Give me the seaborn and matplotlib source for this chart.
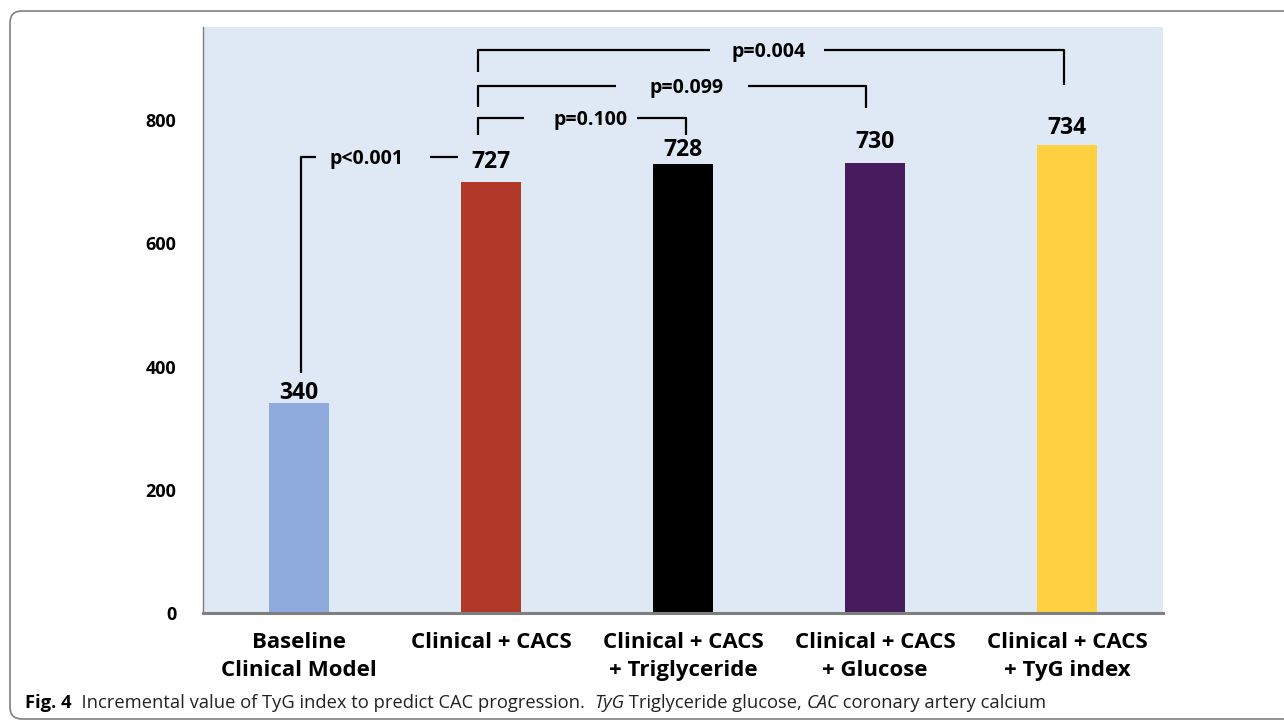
import seaborn as sns
from matplotlib import pyplot as plt
from matplotlib.patches import FancyBboxPatch
import pandas as pd

# values
models = ['Baseline\nClinical Model', 'Clinical + CACS', 'Clinical + CACS\n+ Triglyceride',
          'Clinical + CACS\n+ Glucose', 'Clinical + CACS\n+ TyG index']
bar_heights = [340, 700, 728, 730, 760]
value_labels = ['340', '727', '728', '730', '734']
bar_colors = ['#8FAADC', '#B03A27', '#000000', '#461C5C', '#FFD03F']
y_ticks = [0, 200, 400, 600, 800]

# comparison brackets: (x_left, x_right, y, drop_left, drop_right, text, text_x, gap_left, gap_right)
brackets = [
    (0.01, 0.828, 740, 390, None, 'p<0.001', 0.349, 0.089, 0.682),
    (0.932, 2.016, 803, 776, 776, 'p=0.100', 1.516, 1.172, 1.760),
    (0.932, 2.953, 855, 821, 819, 'p=0.099', 2.016, 1.651, 2.339),
    (0.932, 3.984, 914, 878, 857, 'p=0.004', 2.443, 2.141, 2.734),
]
label_gap = [3, 10, 6, 11, 8]  # points between bar top and value label

sns.set_style('white')
plt.rcParams['font.family'] = ['Open Sans', 'DejaVu Sans']
plt.rcParams['text.color'] = 'black'
plt.rcParams['xtick.color'] = 'black'
plt.rcParams['ytick.color'] = 'black'

df = pd.DataFrame({'model': models, 'value': bar_heights})

fig = plt.figure(figsize=(12.84, 7.21), dpi=100)
ax = fig.add_axes([0.1581, 0.1498, 0.9058 - 0.1581, 0.9626 - 0.1498])
ax.set_facecolor('#DEE9F5')

sns.barplot(data=df, x='model', y='value', hue='model', palette=bar_colors,
            width=0.31, legend=False, saturation=1, linewidth=0, ax=ax)

ax.set_xlim(-0.5, 4.5)
ax.set_ylim(0, 951)
ax.set_yticks(y_ticks)
ax.set_xlabel('')
ax.set_ylabel('')
ax.tick_params(axis='both', length=0)
ax.tick_params(axis='y', pad=19, labelsize=13)
ax.tick_params(axis='x', pad=14, labelsize=16)
for tl in ax.get_yticklabels():
    tl.set_fontweight('bold')
for tl in ax.get_xticklabels():
    tl.set_fontweight('bold')
    tl.set_linespacing(1.4)

for s in ['top', 'right']:
    ax.spines[s].set_visible(False)
ax.spines['left'].set_color('#7F7F7F')
ax.spines['left'].set_linewidth(1.0)
ax.spines['bottom'].set_color('#7F7F7F')
ax.spines['bottom'].set_linewidth(2.2)

# value labels above bars
for i, (h, lab) in enumerate(zip(bar_heights, value_labels)):
    ax.annotate(lab, (i, h), xytext=(0, label_gap[i]), textcoords='offset points',
                ha='center', va='baseline', fontsize=16.5, fontweight='bold')

# significance brackets
lk = dict(color='black', lw=1.6, solid_capstyle='butt')
for x0, x1, y, yl, yr, txt, tx, g0, g1 in brackets:
    ax.plot([x0, x0, g0], [yl, y, y], **lk)
    if yr is None:
        ax.plot([g1, x1], [y, y], **lk)
    else:
        ax.plot([g1, x1, x1], [y, y, yr], **lk)
    ax.text(tx, y - 3, txt, ha='center', va='center', fontsize=14, fontweight='bold')

# outer frame of the figure panel
frame = FancyBboxPatch((0.10, 0.02), 13.5, 7.08, boxstyle='round,pad=0,rounding_size=0.12',
                       transform=fig.dpi_scale_trans, fill=False, ec='#808080', lw=1.2)
fig.add_artist(frame)

# caption
pieces = [('Fig. 4', 'bold', 'normal'),
          ('  Incremental value of TyG index to predict CAC progression.  ', 'normal', 'normal'),
          ('TyG', 'normal', 'italic'),
          (' Triglyceride glucose, ', 'normal', 'normal'),
          ('CAC', 'normal', 'italic'),
          (' coronary artery calcium', 'normal', 'normal')]
prev = None
for txt, w, st in pieces:
    if prev is None:
        prev = fig.text(25 / 1284, 1 - 708 / 721, txt, fontsize=13.2, fontweight=w,
                        style=st, ha='left', va='baseline')
    else:
        prev = ax.annotate(txt, xy=(1, 0), xycoords=prev, ha='left', va='bottom',
                           fontsize=13.2, fontweight=w, style=st, color='#222222',
                           annotation_clip=False)

fig.savefig('out.png', dpi=100)
